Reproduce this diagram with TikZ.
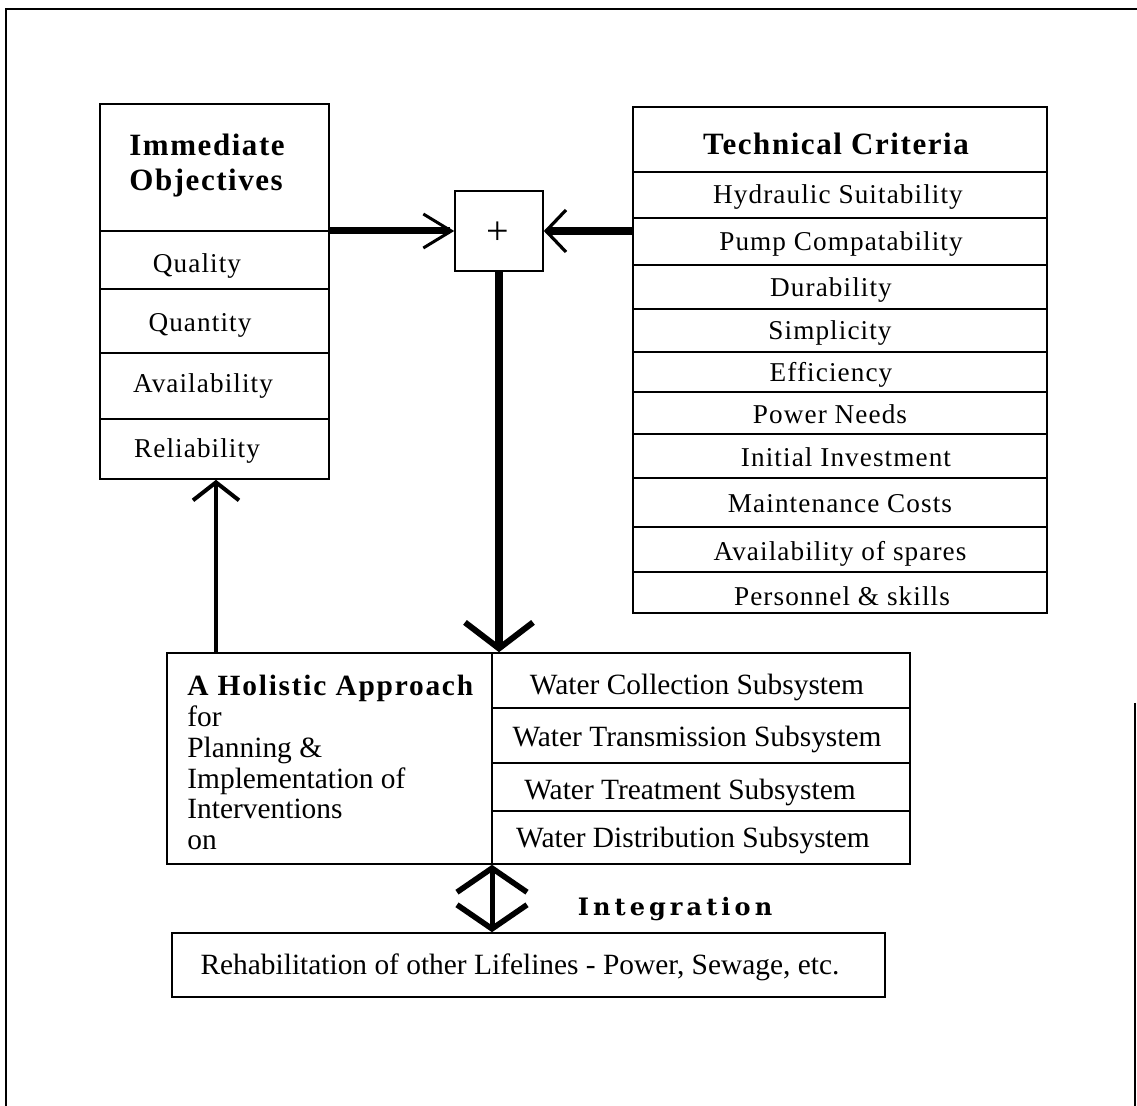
\documentclass[tikz,border=0pt]{standalone}
\usepackage{fontspec}
\setmainfont{Liberation Serif}
\newfontfamily\widebold{DejaVu Serif}
\usetikzlibrary{positioning,fit,arrows.meta}

\tikzset{
  frame/.style={line width=1.1pt},
  box/.style={draw, line width=0.8pt, inner sep=0pt},
  rule/.style={line width=0.7pt},
  item/.style={font=\fontsize{13.6}{16}\selectfont\addfontfeature{LetterSpace=4}, inner sep=0pt},
  subitem/.style={font=\fontsize{14.7}{15.4}\selectfont, inner sep=0pt},
  title/.style={font=\fontsize{15.5}{17.5}\selectfont\bfseries\addfontfeature{LetterSpace=5}, inner sep=0pt},
  feed/.style={line width=3.5pt, -{Straight Barb[length=14pt, width=17pt, line width=1.5pt]}},
  feedin/.style={line width=4pt, -{Straight Barb[length=10pt, width=21pt, line width=1.6pt]}},
  merge/.style={line width=4pt, -{Straight Barb[length=13pt, width=34pt, line width=3pt]}},
  back/.style={line width=2pt, -{Straight Barb[length=9pt, width=23pt, line width=2pt]}},
  link/.style={line width=2.5pt, {Straight Barb[length=12pt, width=35pt, line width=2.8pt]}-{Straight Barb[length=12pt, width=35pt, line width=2.8pt]}}
}

\begin{document}
\begin{tikzpicture}[x=0.5pt, y=-0.5pt]
  \useasboundingbox (0,0) rectangle (1137,1106);
  % page frame
  \draw[frame] (6,1106) -- (6,9) -- (1137,9);
  \draw[frame] (1135,703) -- (1135,1106);

  % Immediate objectives
  \node[box, fit={(100,104) (329,479)}] (obj) {};
  \draw[rule] (100,231) -- (329,231);
  \draw[rule] (100,289) -- (329,289);
  \draw[rule] (100,353) -- (329,353);
  \draw[rule] (100,419) -- (329,419);
  \node[title, align=left, anchor=north west] (objtitle) at (129,134) {Immediate\\Objectives};
  \node[item, anchor=base] (quality) at (197,273) {Quality};
  \node[item, anchor=base] (quantity) at (200,332) {Quantity};
  \node[item, anchor=base] (avail) at (203,393) {Availability};
  \node[item, anchor=base] (reliab) at (197,458) {Reliability};

  % Technical criteria
  \node[box, fit={(633,107) (1047,613)}] (crit) {};
  \draw[rule] (633,172) -- (1047,172);
  \draw[rule] (633,218) -- (1047,218);
  \draw[rule] (633,265) -- (1047,265);
  \draw[rule] (633,309) -- (1047,309);
  \draw[rule] (633,352) -- (1047,352);
  \draw[rule] (633,392) -- (1047,392);
  \draw[rule] (633,434) -- (1047,434);
  \draw[rule] (633,478) -- (1047,478);
  \draw[rule] (633,527) -- (1047,527);
  \draw[rule] (633,572) -- (1047,572);
  \node[title, anchor=base] (crittitle) at (836,155) {Technical Criteria};
  \node[item, anchor=base] (hydr) at (838,204) {Hydraulic Suitability};
  \node[item, anchor=base] (pump) at (841,251) {Pump Compatability};
  \node[item, anchor=base] (durab) at (831,297) {Durability};
  \node[item, anchor=base] (simpl) at (830,340) {Simplicity};
  \node[item, anchor=base] (effic) at (831,382) {Efficiency};
  \node[item, anchor=base] (power) at (830,424) {Power Needs};
  \node[item, anchor=base] (invest) at (846,467) {Initial Investment};
  \node[item, anchor=base] (maint) at (840,513) {Maintenance Costs};
  \node[item, anchor=base] (spares) at (840,561) {Availability of spares};
  \node[item, anchor=base] (staff) at (842,606) {Personnel \& skills};

  % summing box
  \node[box, fit={(455,191) (543,271)}] (plus) {};
  \node[font=\fontsize{20}{20}\selectfont, inner sep=0pt] (plussign) at (498,233) {+};

  % holistic approach
  \node[box, fit={(167,653) (910,864)}] (plan) {};
  \draw[rule] (492,653) -- (492,864);
  \draw[rule] (492,708) -- (910,708);
  \draw[rule] (492,763) -- (910,763);
  \draw[rule] (492,811) -- (910,811);
  \node[subitem, align=left, anchor=north west] (plantext) at (187,675)
    {{\bfseries\addfontfeature{LetterSpace=6}A Holistic Approach}\\for\\Planning \&\\Implementation of\\Interventions\\on};
  \node[subitem, anchor=base] (collect) at (697,695) {Water Collection Subsystem};
  \node[subitem, anchor=base] (transm) at (697,747) {Water Transmission Subsystem};
  \node[subitem, anchor=base] (treat) at (690,800) {Water Treatment Subsystem};
  \node[subitem, anchor=base] (distrib) at (693,848) {Water Distribution Subsystem};

  % other lifelines
  \node[box, fit={(172,933) (885,997)}] (rehab) {};
  \node[subitem, anchor=base] (rehabtext) at (520,975)
    {Rehabilitation of other Lifelines - Power, Sewage, etc.};

  % connectors
  \coordinate (feedx) at (216,0);
  \coordinate (seam) at (492,0);
  \draw[feed] (plus.west -| obj.east) -- (plus.west);
  \draw[feedin] (plus.east -| crit.west) -- (plus.east);
  \draw[merge] (plus.south) -- (plus.south |- plan.north);
  \draw[back] (feedx |- plan.north) -- (feedx |- obj.south);
  \draw[link] (seam |- plan.south) -- (seam |- rehab.north);
  \node[font=\widebold\fontsize{12}{14}\selectfont\bfseries\addfontfeature{LetterSpace=17}, inner sep=0pt, anchor=base]
    (integ) at (675,916) {Integration};
\end{tikzpicture}
\end{document}
